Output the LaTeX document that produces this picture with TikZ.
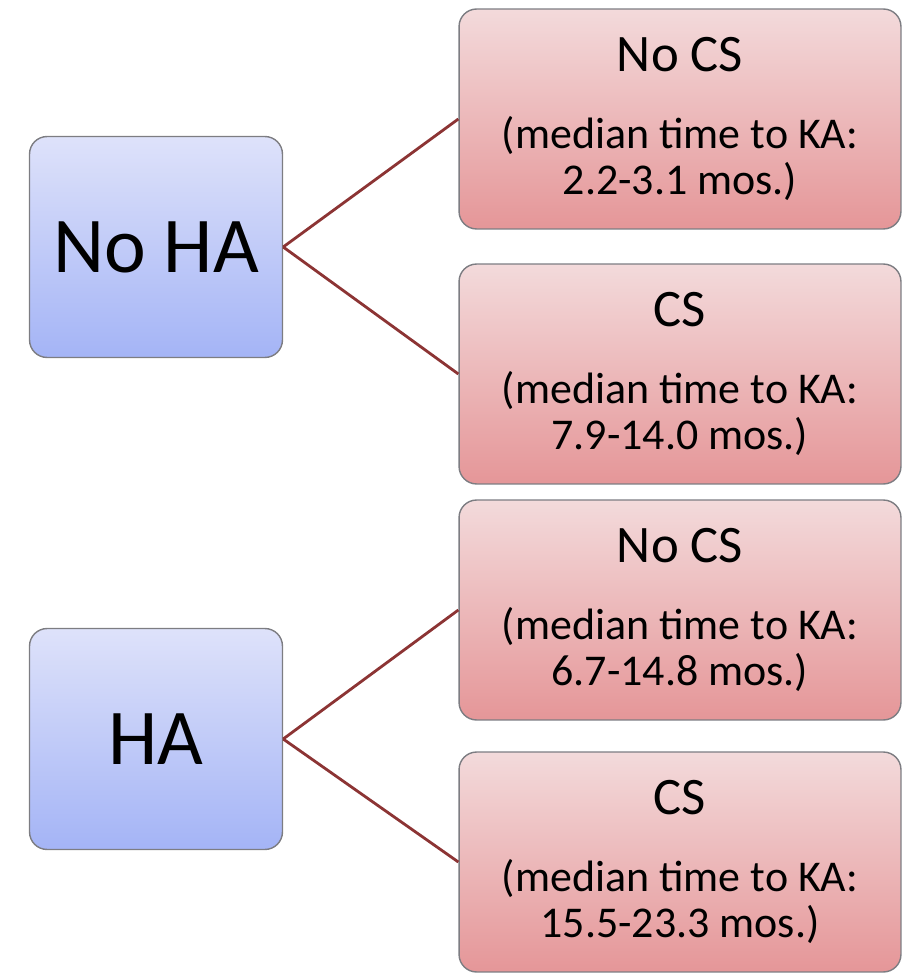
\documentclass[tikz,border=0pt]{standalone}
\usepackage{fontspec}
\setmainfont{Carlito}
\definecolor{linkred}{RGB}{140,52,52}
\definecolor{boxedge}{RGB}{125,125,130}
\newcommand{\cshead}[1]{{\fontsize{30}{30}\selectfont #1}}
\begin{document}
\begin{tikzpicture}[
    x=0.02cm, y=-0.02cm,
    habox/.style={rectangle, rounded corners=10pt, draw=boxedge, line width=0.8pt,
        top color={rgb,255:red,222;green,226;blue,250}, bottom color={rgb,255:red,164;green,180;blue,246},
        minimum width=5.06cm, minimum height=4.42cm, font=\fontsize{45}{50}\selectfont},
    csbox/.style={rectangle, rounded corners=10pt, draw=boxedge, line width=0.8pt,
        top color={rgb,255:red,243;green,218;blue,219}, bottom color={rgb,255:red,229;green,150;blue,152},
        minimum width=8.84cm, minimum height=4.4cm, align=center, font=\fontsize{25}{26}\selectfont},
    link/.style={draw=linkred, line width=1.6pt}
]
    \useasboundingbox (0,0) rectangle (903,976);

    \node[habox] at (156,247) (noha) {No HA};
    \node[habox] at (156,739) (ha) {HA};

    \node[csbox] at (680,119) (c1) {\cshead{No CS}\\[18pt](median time to KA:\\2.2-3.1 mos.)};
    \node[csbox] at (680,374) (c2) {\cshead{CS}\\[18pt](median time to KA:\\7.9-14.0 mos.)};
    \node[csbox] at (680,610) (c3) {\cshead{No CS}\\[18pt](median time to KA:\\6.7-14.8 mos.)};
    \node[csbox] at (680,862) (c4) {\cshead{CS}\\[18pt](median time to KA:\\15.5-23.3 mos.)};

    \draw[link] (noha.east) -- (c1.west);
    \draw[link] (noha.east) -- (c2.west);
    \draw[link] (ha.east) -- (c3.west);
    \draw[link] (ha.east) -- (c4.west);
\end{tikzpicture}
\end{document}
